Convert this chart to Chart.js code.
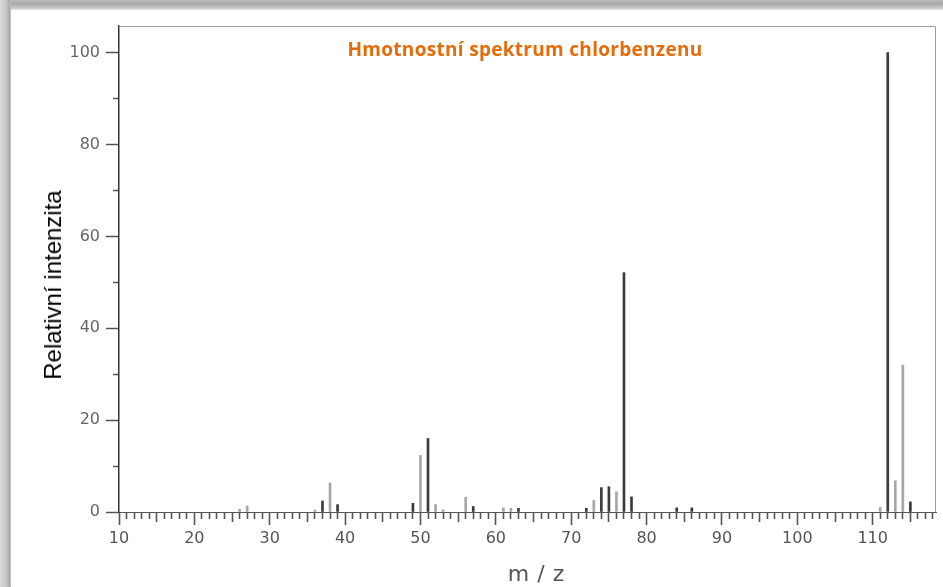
<!DOCTYPE html>
<html>
<head>
<meta charset="utf-8">
<script src="https://cdn.jsdelivr.net/npm/chart.js@4/dist/chart.umd.min.js"></script>
<style>
  html, body { margin: 0; padding: 0; background: #fff; }
  #wrap { position: relative; width: 943px; height: 587px; overflow: hidden; background: #fff; }
  #c { position: absolute; left: 0; top: 0; }
  .shade-top { position: absolute; left: 0; top: 0; width: 943px; height: 10px;
    background: linear-gradient(#bcbcbc, #a9a9a9 40%, #cfcfcf 85%, #e6e6e6); }
  .shade-left { position: absolute; left: 0; top: 0; width: 11px; height: 587px;
    background: linear-gradient(to right, #dadada, #c4c4c4 60%, #a8a8a8 90%, #cfcfcf); }
  #title { position: absolute; left: 525px; top: 49px; transform: translate(-50%, -50%);
    font-family: "Open Sans", sans-serif; font-weight: bold; font-size: 19px; letter-spacing: 0.3px; color: #e46c0a; white-space: nowrap; }
  #ytitle { position: absolute; left: 53px; top: 285px; transform: translate(-50%, -50%) rotate(-90deg);
    font-family: "Liberation Sans", Arial, sans-serif; font-size: 24px; color: #000; white-space: nowrap; }
  #xtitle { position: absolute; left: 540px; top: 573px; transform: translate(-50%, -50%);
    font-family: "DejaVu Sans", sans-serif; font-size: 22px; color: #555; letter-spacing: 8px; white-space: nowrap; }
</style>
</head>
<body>
<div id="wrap">
  <canvas id="c" width="943" height="587"></canvas>
  <div class="shade-top"></div>
  <div class="shade-left"></div>
  <div id="title">Hmotnostní spektrum chlorbenzenu</div>
  <div id="ytitle">Relativní intenzita</div>
  <div id="xtitle">m/z</div>
</div>
<script>
// Mass spectrum of chlorobenzene
const mz = [26, 27, 36, 37, 38, 39, 49, 50, 51, 52, 53, 56, 57, 61, 62, 63, 72, 73, 74, 75, 76, 77, 78, 84, 86, 111, 112, 113, 114, 115];
const intensity = [0.6, 1.3, 0.4, 2.4, 6.3, 1.6, 1.9, 12.3, 16.0, 1.6, 0.5, 3.2, 1.2, 0.9, 0.8, 0.8, 0.8, 2.5, 5.3, 5.5, 4.4, 52.1, 3.3, 0.9, 0.9, 1.0, 100, 6.8, 32.0, 2.2];
const xLabels = [10, 20, 30, 40, 50, 60, 70, 80, 90, 100, 110];
const yLabels = [0, 20, 40, 60, 80, 100];

// lines that come out light grey in the scan
const lightPeaks = [26, 27, 36, 38, 50, 52, 53, 56, 61, 62, 73, 76, 111, 113, 114];
const barColors = mz.map(m => lightPeaks.includes(m) ? '#a6a6a6' : '#3a3a3a');

// grey frame on top and right of the plot
const framePlugin = {
  id: 'frame',
  beforeDatasetsDraw(chart) {
    const a = chart.chartArea;
    const ctx = chart.ctx;
    ctx.save();
    ctx.strokeStyle = '#9c9c9c';
    ctx.lineWidth = 1;
    ctx.beginPath();
    ctx.moveTo(a.left, a.top + 0.5);
    ctx.lineTo(a.right - 0.5, a.top + 0.5);
    ctx.lineTo(a.right - 0.5, a.bottom);
    ctx.stroke();
    ctx.restore();
  }
};

new Chart(document.getElementById('c'), {
  type: 'bar',
  data: {
    datasets: [{
      data: mz.map((m, i) => ({ x: m, y: intensity[i] })),
      backgroundColor: barColors,
      borderWidth: 0,
      barThickness: 2
    }]
  },
  options: {
    responsive: false,
    animation: false,
    layout: { padding: { top: 26, right: 7, left: 0, bottom: 0 } },
    plugins: { legend: { display: false }, tooltip: { enabled: false } },
    scales: {
      x: {
        type: 'linear',
        min: 10,
        max: 118.4,
        offset: false,
        afterFit(scale) { scale.height = 75; },
        border: { color: '#555', width: 1 },
        grid: {
          offset: false,
          drawOnChartArea: false,
          tickLength: 13,
          tickWidth: 1.6,
          tickColor: '#555',
          tickBorderDash: (ctx) => {
            const v = ctx.tick ? ctx.tick.value : 0;
            if (v % 10 === 0) return [];
            if (v % 5 === 0) return [9, 30];
            return [6, 30];
          }
        },
        ticks: {
          stepSize: 1,
          includeBounds: false,
          autoSkip: false,
          maxRotation: 0,
          padding: 4,
          color: '#555',
          font: { family: 'DejaVu Sans', size: 16 },
          callback: (v) => xLabels.includes(v) ? String(v) : ''
        }
      },
      y: {
        min: 0,
        max: 105.8,
        afterFit(scale) { scale.width = 119; },
        border: { color: '#333', width: 1.5 },
        grid: {
          drawOnChartArea: false,
          tickLength: 13,
          tickWidth: 1.5,
          tickColor: '#555',
          // y ticks are stroked from the outer end, so skip the first part
          tickBorderDash: (ctx) => {
            const v = ctx.tick ? ctx.tick.value : 0;
            return yLabels.includes(v) ? [] : [0, 7, 10, 30];
          }
        },
        ticks: {
          stepSize: 10,
          includeBounds: false,
          padding: 6,
          color: '#666',
          font: { family: 'DejaVu Sans', size: 16 },
          callback: (v) => yLabels.includes(v) ? String(v) : ''
        }
      }
    }
  },
  plugins: [framePlugin]
});
</script>
</body>
</html>
